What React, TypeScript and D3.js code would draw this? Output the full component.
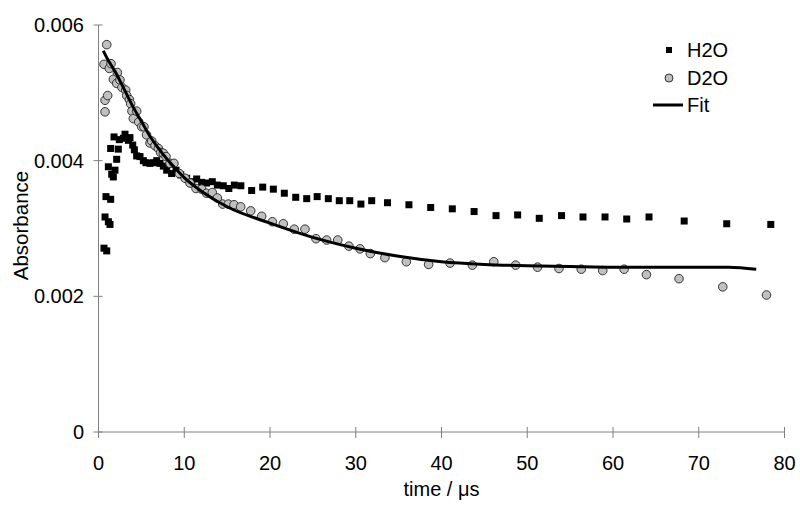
import React from "react";
import * as d3 from "d3";

const h2oTime = [0.64, 0.76, 0.87, 0.96, 1.15, 1.15, 1.34, 1.42, 1.42, 1.54, 1.73, 1.81, 1.92, 2.12, 2.31, 2.43, 2.9, 3.09, 3.48, 3.67, 3.99, 4.18, 4.45, 4.84, 5.23, 5.54, 6.0, 6.4, 6.79, 7.17, 7.56, 7.95, 8.53, 9.04, 9.59, 10.28, 10.87, 11.45, 12.03, 12.6, 13.27, 13.86, 14.55, 15.2, 15.84, 16.6, 17.86, 19.15, 20.39, 21.67, 23.0, 24.28, 25.5, 26.8, 28.08, 29.3, 30.6, 31.86, 33.7, 36.2, 38.74, 41.26, 43.8, 46.36, 48.88, 51.4, 54.0, 56.5, 59.07, 61.6, 64.2, 68.3, 73.26, 78.4];
const h2oAbs = [0.00271, 0.00317, 0.00347, 0.00267, 0.0031, 0.00391, 0.00306, 0.00343, 0.00418, 0.0038, 0.00376, 0.00435, 0.00386, 0.00402, 0.00417, 0.00431, 0.00433, 0.00439, 0.0043, 0.00434, 0.00423, 0.00416, 0.00407, 0.00406, 0.004, 0.00397, 0.00396, 0.00397, 0.004, 0.00396, 0.00392, 0.00386, 0.00381, 0.00386, 0.00379, 0.00374, 0.00369, 0.00373, 0.00368, 0.00367, 0.00369, 0.00364, 0.00363, 0.00359, 0.00364, 0.00363, 0.00356, 0.00361, 0.00358, 0.00352, 0.00346, 0.00344, 0.00347, 0.00344, 0.00341, 0.00341, 0.00336, 0.00341, 0.00338, 0.00335, 0.00331, 0.00329, 0.00325, 0.00319, 0.0032, 0.00315, 0.00319, 0.00317, 0.00317, 0.00314, 0.00317, 0.00311, 0.00307, 0.00306];

const d2oTime = [0.64, 0.76, 0.76, 0.96, 1.07, 1.26, 1.46, 1.73, 2.12, 2.2, 2.5, 2.74, 3.17, 3.29, 3.6, 3.75, 3.9, 4.06, 4.45, 4.69, 5.04, 5.3, 5.6, 6.0, 6.2, 6.59, 6.98, 7.25, 7.56, 7.87, 8.34, 8.8, 9.43, 10.1, 10.67, 11.37, 12.03, 12.6, 13.27, 13.86, 14.48, 15.14, 15.8, 16.58, 17.75, 19.03, 20.27, 21.55, 22.83, 24.08, 25.36, 26.6, 27.9, 29.2, 30.5, 31.7, 33.4, 35.9, 38.5, 41.0, 43.6, 46.1, 48.65, 51.2, 53.7, 56.3, 58.8, 61.3, 63.9, 67.7, 72.8, 77.9];
const d2oAbs = [0.00542, 0.00472, 0.00489, 0.00571, 0.00496, 0.00536, 0.00543, 0.0052, 0.00514, 0.0053, 0.00519, 0.00508, 0.00504, 0.00496, 0.0049, 0.00484, 0.00473, 0.00462, 0.00473, 0.00457, 0.0045, 0.0045, 0.00438, 0.00426, 0.00429, 0.00422, 0.00418, 0.00412, 0.00411, 0.00406, 0.00396, 0.00396, 0.00381, 0.00374, 0.00367, 0.00359, 0.00358, 0.00352, 0.00353, 0.00345, 0.00336, 0.00336, 0.00335, 0.00332, 0.00326, 0.00318, 0.0031, 0.00307, 0.00299, 0.00299, 0.00285, 0.00283, 0.00283, 0.00274, 0.0027, 0.00263, 0.00257, 0.00251, 0.00247, 0.00249, 0.00246, 0.00251, 0.00246, 0.00243, 0.00241, 0.0024, 0.00238, 0.0024, 0.00232, 0.00226, 0.00214, 0.00202];

const fitTime = [0.56, 1, 2, 3, 4, 5, 6, 7, 8, 9, 10, 12, 15, 20, 25, 30, 35, 40, 45, 50, 55, 60, 70, 73.5, 76.7];
const fitAbs = [0.00562, 0.00551, 0.0053, 0.00505, 0.0048, 0.00458, 0.00436, 0.00418, 0.00402, 0.00388, 0.00375, 0.00355, 0.00332, 0.00308, 0.00287, 0.00271, 0.00259, 0.00251, 0.00247, 0.00245, 0.00244, 0.00243, 0.00243, 0.00243, 0.0024];

const xTicks = [0, 10, 20, 30, 40, 50, 60, 70, 80];
const yTicks = [0, 0.002, 0.004, 0.006];
const yTickLabels = ["0", "0.002", "0.004", "0.006"];
const legendLabels = ["H2O", "D2O", "Fit"];

export default function App() {
  const W = 800, H = 514;
  const x = d3.scaleLinear().domain([0, 80]).range([98.5, 784.5]);
  const y = d3.scaleLinear().domain([0, 0.006]).range([432, 25]);
  const font = "'Liberation Sans', Arial, sans-serif";
  const axisColor = "#808080";

  const fitData = fitTime.map((t, i) => [t, fitAbs[i]] as [number, number]);
  const line = d3
    .line<[number, number]>()
    .x((d) => x(d[0]))
    .y((d) => y(d[1]))
    .curve(d3.curveMonotoneX);

  const sq = 7;

  return (
    <svg width={W} height={H} style={{ position: "absolute", left: 0, top: 0, background: "#fff" }} fontFamily={font}>
      <rect x={0} y={0} width={W} height={H} fill="#fff" />
      {/* axes */}
      <line x1={x(0)} x2={x(80)} y1={y(0)} y2={y(0)} stroke={axisColor} strokeWidth={1} />
      <line x1={x(0)} x2={x(0)} y1={y(0)} y2={y(0.006)} stroke={axisColor} strokeWidth={1} />
      {xTicks.map((t) => (
        <g key={"xt" + t}>
          <line x1={x(t)} x2={x(t)} y1={y(0) - 5} y2={y(0) + 6} stroke={axisColor} strokeWidth={1} />
          <text x={x(t)} y={469.5} textAnchor="middle" fontSize={20} fill="#000">
            {t}
          </text>
        </g>
      ))}
      {yTicks.map((v, i) => (
        <g key={"yt" + v}>
          <line x1={x(0) - 5} x2={x(0) + 4} y1={y(v)} y2={y(v)} stroke={axisColor} strokeWidth={1} />
          <text x={84} y={y(v) + 7} textAnchor="end" fontSize={20} fill="#000">
            {yTickLabels[i]}
          </text>
        </g>
      ))}
      <text x={(x(0) + x(80)) / 2} y={496} textAnchor="middle" fontSize={20} fill="#000">
        time / μs
      </text>
      <text transform={`translate(28, ${(y(0) + y(0.006)) / 2 - 3}) rotate(-90)`} textAnchor="middle" fontSize={20.5} fill="#000">
        Absorbance
      </text>

      {/* H2O squares */}
      {h2oTime.map((t, i) => (
        <rect key={"h" + i} x={x(t) - sq / 2} y={y(h2oAbs[i]) - sq / 2} width={sq} height={sq} fill="#000" />
      ))}
      {/* D2O circles */}
      {d2oTime.map((t, i) => (
        <circle key={"d" + i} cx={x(t)} cy={y(d2oAbs[i])} r={4.3} fill="#c0c0c0" stroke="#222" strokeWidth={0.9} />
      ))}
      {/* Fit */}
      <path d={line(fitData) || ""} fill="none" stroke="#000" strokeWidth={3} />

      {/* legend */}
      <rect x={669 - 3} y={50 - 3} width={6} height={6} fill="#000" />
      <circle cx={669} cy={78} r={4} fill="#c0c0c0" stroke="#222" strokeWidth={0.9} />
      <line x1={653} x2={683} y1={105} y2={105} stroke="#000" strokeWidth={3} />
      {legendLabels.map((l, i) => (
        <text key={l} x={687} y={50 + i * 27.5 + 7} fontSize={20} fill="#000">
          {l}
        </text>
      ))}
    </svg>
  );
}
